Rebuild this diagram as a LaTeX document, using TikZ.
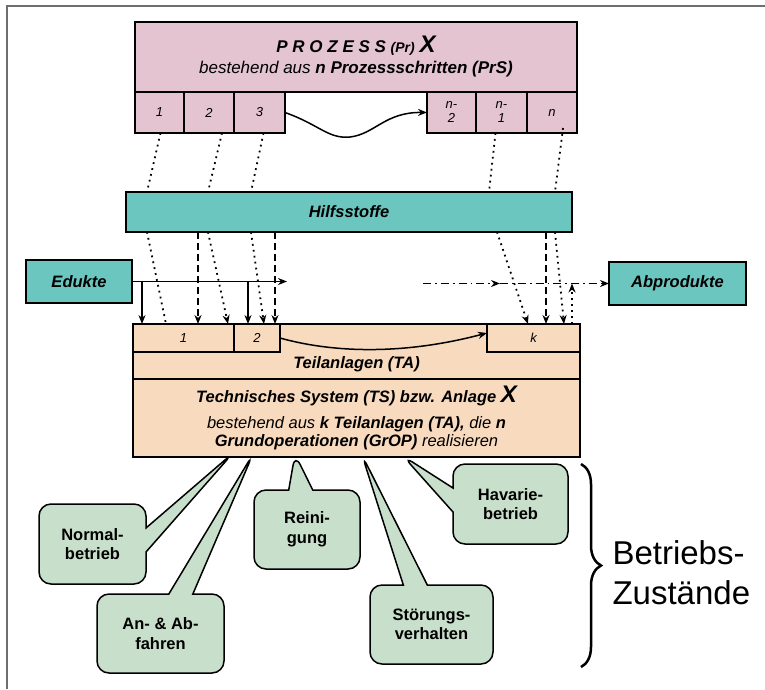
\documentclass[tikz,border=0pt]{standalone}
\usepackage{fontspec}
\setmainfont{Liberation Sans}
\usetikzlibrary{positioning,arrows.meta,shapes.callouts,decorations.pathreplacing}
\definecolor{przpink}{RGB}{227,196,208}
\definecolor{hilfteal}{RGB}{108,198,192}
\definecolor{tapeach}{RGB}{248,218,190}
\definecolor{notegreen}{RGB}{200,224,203}
\definecolor{framegray}{RGB}{110,110,110}
\newcommand{\bigX}{{\fontsize{24}{18}\selectfont X}}

\begin{document}
\begin{tikzpicture}[x=1pt,y=-1pt, >={Stealth[length=9pt,width=7pt]}]
  \tikzset{
    ln/.style={line width=1.5pt},
    box/.style={draw, ln, inner sep=0pt, outer sep=0pt, align=center},
    cell/.style={box, font=\fontsize{13}{14}\selectfont\itshape},
    lbl/.style={font=\fontsize{16.5}{19}\selectfont\bfseries\itshape},
    dotln/.style={line width=1.8pt, dash pattern=on 1.8pt off 4.2pt},
    dashln/.style={line width=1.7pt, dash pattern=on 7pt off 4pt},
    dashdotln/.style={line width=1.7pt, dash pattern=on 8pt off 4pt on 1.8pt off 4pt},
    note/.style={rectangle callout, draw, ln, fill=notegreen, rounded corners=12pt,
      align=center, inner sep=0pt, callout pointer width=24pt,
      font=\fontsize{16.5}{19.5}\selectfont\bfseries}
  }
  \useasboundingbox (0,0) rectangle (765,689);
  \draw[framegray, line width=2pt] (7,689) -- (7,6) -- (765,6);

  % Prozess
  \node[box, fill=przpink, minimum width=442pt, minimum height=70pt, anchor=north west,
    font=\fontsize{17}{20}\selectfont] (prz) at (135,22)
    {{\bfseries\itshape P R O Z E S S {\fontsize{14}{14}\selectfont (Pr)} \bigX}\\[1pt]
     {\itshape bestehend aus \bfseries n Prozessschritten (PrS)}};
  \node[cell, fill=przpink, minimum width=49pt, minimum height=41pt, anchor=north west] (c1) at (prz.south west) {1};
  \node[cell, fill=przpink, minimum width=50pt, minimum height=41pt, right=0pt of c1] (c2) {2};
  \node[cell, fill=przpink, minimum width=51pt, minimum height=41pt, right=0pt of c2] (c3) {3};
  \node[cell, fill=przpink, minimum width=50pt, minimum height=41pt, anchor=north east] (cn) at (prz.south east) {n};
  \node[cell, fill=przpink, minimum width=51pt, minimum height=41pt, left=0pt of cn] (cn1) {n-\\1};
  \node[cell, fill=przpink, minimum width=49pt, minimum height=41pt, left=0pt of cn1] (cn2) {n-\\2};
  \draw[ln,->] (c3.east) .. controls (320,125) and (328,139) .. (350,137)
    .. controls (375,134) and (385,112) .. (cn2.west);

  % Hilfsstoffe, Edukte, Abprodukte
  \node[box, lbl, fill=hilfteal, minimum width=446pt, minimum height=40pt, anchor=north west] (hilf) at (126,192) {Hilfsstoffe};
  \node[box, lbl, fill=hilfteal, minimum width=106pt, minimum height=43pt, anchor=north west] (edu) at (26,260) {Edukte};
  \node[box, lbl, fill=hilfteal, minimum width=137pt, minimum height=43pt, anchor=north west] (abp) at (609,262) {Abprodukte};

  % Teilanlagen
  \node[box, fill=tapeach, minimum width=447pt, minimum height=55pt, anchor=north west] (ta) at (133,324) {};
  \node[cell, fill=tapeach, minimum width=101pt, minimum height=28pt, anchor=north west] (ta1) at (ta.north west) {1};
  \node[cell, fill=tapeach, minimum width=46pt, minimum height=28pt, right=0pt of ta1] (ta2) {2};
  \node[cell, fill=tapeach, minimum width=93pt, minimum height=28pt, anchor=north east] (tak) at (ta.north east) {k};
  \node[lbl] (talbl) at (356.5,364) {Teilanlagen (TA)};
  \draw[ln,->] (ta2.east) .. controls (330,352) and (400,356) .. ([yshift=5pt]tak.west);
  \node[box, fill=tapeach, minimum width=447pt, minimum height=78pt, anchor=north west,
    font=\fontsize{16.5}{18}\selectfont] (ts) at (ta.south west)
    {{\bfseries\itshape Technisches System (TS) bzw. Anlage \bigX}\\[8pt]
     {\itshape bestehend aus \textbf{k Teilanlagen (TA),} die \textbf{n}}\\
     {\itshape\textbf{Grundoperationen (GrOP)} realisieren}};

  % Stroeme links
  \draw[dotln] ([xshift=1pt]c1.south) -- (hilf.north -| 147,0);
  \draw[dotln] ([xshift=13pt]c2.south) -- (hilf.north -| 208,0);
  \draw[dotln] ([xshift=4pt]c3.south) -- (hilf.north -| 251,0);
  \draw[dotln] (hilf.south -| 147,0) -- (ta.north -| 166,0);
  \draw[dotln,->] (hilf.south -| 208,0) -- (ta.north -| 228,0);
  \draw[dotln,->] (hilf.south -| 251,0) -- (ta.north -| 264,0);
  \draw[dashln,->] (hilf.south -| 198,0) -- (ta.north -| 198,0);
  \draw[dashln,->] (hilf.south -| 275,0) -- (ta.north -| 275,0);
  \draw[ln,->] (edu.east) -- (edu.east -| 287,0);
  \draw[ln,->] (edu.east -| 142,0) -- (ta.north -| 142,0);
  \draw[ln,->] (edu.east -| 248,0) -- (ta.north -| 248,0);

  % Stroeme rechts
  \draw[dotln] ([xshift=-6pt]cn1.south) -- (hilf.north -| 489,0);
  \draw[dotln] ([xshift=11pt,yshift=5pt]cn.south) -- (hilf.north -| 555,0);
  \draw[dotln,->] (hilf.south -| 497,0) -- (ta.north -| 528,0);
  \draw[dotln,->] (hilf.south -| 555,0) -- (ta.north -| 564,0);
  \draw[dashln,->] (hilf.south -| 546,0) -- (ta.north -| 546,0);
  \draw[dashdotln,->] (abp.west -| 423,0) -- (abp.west -| 500,0);
  \draw[dashdotln,->] (abp.west -| 500,0) -- (abp.west);
  \draw[dotln,->] (ta.north -| 572,0) -- (abp.west -| 572,0);

  % Betriebszustaende
  \coordinate (tnorm) at (233,453);
  \coordinate (tanab) at (253,454);
  \coordinate (trein) at (295,454);
  \coordinate (tstoer) at (362,455);
  \coordinate (thav) at (403,456);
  \node[note, minimum width=107pt, minimum height=80pt, callout absolute pointer={(tnorm)}] (norm) at (92.5,544) {Normal-\\betrieb};
  \node[note, minimum width=127pt, minimum height=79pt, callout absolute pointer={(tanab)}] (anab) at (160.5,633.5) {An- \& Ab-\\fahren};
  \node[note, minimum width=106pt, minimum height=79pt, callout absolute pointer={(trein)}] (rein) at (307,529.5) {Reini-\\gung};
  \node[note, minimum width=123pt, minimum height=79pt, callout absolute pointer={(tstoer)}] (stoer) at (431.5,624.5) {Störungs-\\verhalten};
  \node[note, minimum width=115pt, minimum height=80pt, callout absolute pointer={(thav)}] (hav) at (510.5,504) {Havarie-\\betrieb};

  \coordinate (brtop) at (581,464);
  \coordinate (brbot) at (581,667);
  \draw[decorate, decoration={brace, amplitude=20pt}, line width=2.5pt] (brtop) -- (brbot);
  \node[anchor=west, align=left, font=\fontsize{33}{40}\selectfont] (bz) at (609,573) {Betriebs-\\Zustände};
\end{tikzpicture}
\end{document}
